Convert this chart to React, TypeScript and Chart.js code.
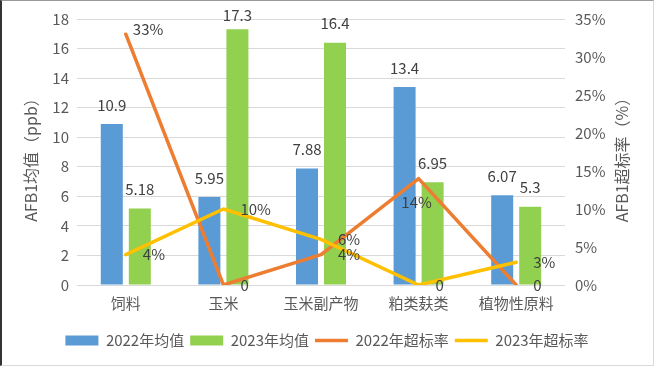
import React, { useEffect, useRef } from 'react';
import { Chart, registerables } from 'chart.js';

Chart.register(...registerables);

// ---- data ----
const categories = ['饲料', '玉米', '玉米副产物', '粕类麸类', '植物性原料'];
const mean2022 = [10.9, 5.95, 7.88, 13.4, 6.07];
const mean2023 = [5.18, 17.3, 16.4, 6.95, 5.3];
const rate2022 = [33, 0, 4, 14, 0];
const rate2023 = [4, 10, 6, 0, 3];
const rateLabels2022 = ['33%', '0', '4%', '14%', '0'];
const rateLabels2023 = ['4%', '10%', '6%', '0', '3%'];
const leftAxis = { min: 0, max: 18, step: 2 };
const rightAxis = { min: 0, max: 35, step: 5 };
const seriesNames = ['2022年均值', '2023年均值', '2022年超标率', '2023年超标率'];
const leftTitle = 'AFB1均值（ppb）';
const rightTitle = 'AFB1超标率（%）';

// label placement styles (not data)
const ratePos2022 = ['rightUp', 'right', 'right', 'below', 'right'];
const ratePos2023 = ['right', 'right', 'right', 'right', 'right'];

const FONT = '"Noto Sans CJK SC", "Microsoft YaHei", sans-serif';
const TEXT = '#595959';
const LABEL = '#404040';

const labelPlugin = {
  id: 'valueLabels',
  afterDatasetsDraw(chart: any) {
    const ctx = chart.ctx;
    ctx.save();
    ctx.font = `15px ${FONT}`;
    ctx.fillStyle = LABEL;
    chart.data.datasets.forEach((ds: any, di: number) => {
      const meta = chart.getDatasetMeta(di);
      meta.data.forEach((el: any, i: number) => {
        if (ds.type === 'bar') {
          ctx.textAlign = 'center';
          ctx.textBaseline = 'middle';
          ctx.fillText(String(ds.data[i]), el.x, Math.max(el.y - 19, 15));
        } else {
          const pos = ds.labelPos[i];
          const txt = ds.valueLabels[i];
          ctx.textBaseline = 'middle';
          if (pos === 'below') {
            ctx.textAlign = 'center';
            ctx.fillText(txt, el.x - 2, el.y + 24);
          } else if (pos === 'rightUp') {
            ctx.textAlign = 'left';
            ctx.fillText(txt, el.x + 7, el.y - 5);
          } else {
            ctx.textAlign = 'left';
            ctx.fillText(txt, el.x + 17, el.y);
          }
        }
      });
    });
    ctx.restore();
  },
  afterDraw(chart: any) {
    const ctx = chart.ctx;
    const area = chart.chartArea;
    const cy = (area.top + area.bottom) / 2 + 4;
    ctx.save();
    ctx.font = `16px ${FONT}`;
    ctx.fillStyle = TEXT;
    ctx.textAlign = 'center';
    ctx.textBaseline = 'middle';
    [[31, leftTitle], [622, rightTitle]].forEach(([x, t]: any) => {
      ctx.save();
      ctx.translate(x, cy);
      ctx.rotate(-Math.PI / 2);
      ctx.fillText(t, 0, 0);
      ctx.restore();
    });
    ctx.restore();
  },
};

export default function App() {
  const ref = useRef<HTMLCanvasElement>(null);
  useEffect(() => {
    if (!ref.current) return;
    const chart = new Chart(ref.current, {
      type: 'bar',
      data: {
        labels: categories,
        datasets: [
          {
            type: 'bar',
            label: seriesNames[0],
            data: mean2022,
            backgroundColor: '#5B9BD5',
            borderWidth: 0,
            yAxisID: 'y',
            order: 3,
            pointStyle: 'rect',
            categoryPercentage: 0.574,
            barPercentage: 0.786,
          } as any,
          {
            type: 'bar',
            label: seriesNames[1],
            data: mean2023,
            backgroundColor: '#92D050',
            borderWidth: 0,
            yAxisID: 'y',
            order: 3,
            pointStyle: 'rect',
            categoryPercentage: 0.574,
            barPercentage: 0.786,
          } as any,
          {
            type: 'line',
            label: seriesNames[2],
            data: rate2022,
            borderColor: '#ED7D31',
            backgroundColor: '#ED7D31',
            borderWidth: 3.5,
            pointRadius: 0,
            pointStyle: 'line',
            borderCapStyle: 'round',
            borderJoinStyle: 'round',
            yAxisID: 'y1',
            order: 1,
            valueLabels: rateLabels2022,
            labelPos: ratePos2022,
          } as any,
          {
            type: 'line',
            label: seriesNames[3],
            data: rate2023,
            borderColor: '#FFC000',
            backgroundColor: '#FFC000',
            borderWidth: 3.5,
            pointRadius: 0,
            pointStyle: 'line',
            borderCapStyle: 'round',
            borderJoinStyle: 'round',
            yAxisID: 'y1',
            order: 0,
            valueLabels: rateLabels2023,
            labelPos: ratePos2023,
          } as any,
        ],
      },
      options: {
        responsive: false,
        animation: false,
        layout: { padding: { top: 19, left: 0, right: 0, bottom: 8 } },
        font: { family: FONT },
        plugins: {
          tooltip: { enabled: false },
          legend: {
            position: 'bottom',
            labels: {
              usePointStyle: true,
              pointStyleWidth: 33,
              boxHeight: 10,
              padding: 6,
              color: TEXT,
              font: { size: 15, family: FONT },
              sort: (a: any, b: any) => a.datasetIndex - b.datasetIndex,
            },
          },
        },
        scales: {
          x: {
            grid: { display: false, drawTicks: false },
            border: { display: false },
            ticks: { color: TEXT, font: { size: 15, family: FONT }, padding: 9 },
            afterFit: (s: any) => { s.height = 42; },
          },
          y: {
            position: 'left',
            min: leftAxis.min,
            max: leftAxis.max,
            grid: { color: '#D9D9D9', lineWidth: 1, drawTicks: false },
            border: { display: false },
            ticks: { stepSize: leftAxis.step, color: TEXT, font: { size: 15, family: FONT }, padding: 8 },
            afterFit: (s: any) => { s.width = 77; },
          },
          y1: {
            position: 'right',
            min: rightAxis.min,
            max: rightAxis.max,
            grid: { display: false, drawTicks: false },
            border: { display: false },
            ticks: {
              stepSize: rightAxis.step,
              color: TEXT,
              font: { size: 15, family: FONT },
              padding: 10,
              callback: (v: any) => v + '%',
            },
            afterFit: (s: any) => { s.width = 89; },
          },
        },
      } as any,
      plugins: [labelPlugin],
    });
    return () => chart.destroy();
  }, []);

  return (
    <div style={{ position: 'fixed', left: 0, top: 0, width: 654, height: 366, background: '#fff' }}>
      <canvas ref={ref} width={654} height={366} style={{ position: 'absolute', left: 0, top: 0 }} />
      <div
        style={{
          position: 'absolute', left: 0, top: 0, width: 654, height: 366, boxSizing: 'border-box',
          borderLeft: '2px solid #333', borderTop: '1px solid #999',
          borderRight: '1px solid #D9D9D9', borderBottom: '1px solid #D9D9D9', pointerEvents: 'none',
        }}
      />
    </div>
  );
}
